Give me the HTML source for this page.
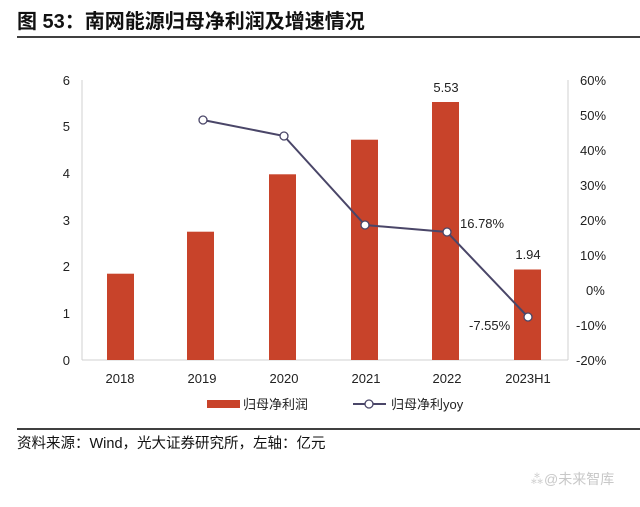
<!DOCTYPE html>
<html><head><meta charset="utf-8"><style>
body{margin:0;width:640px;height:502px;background:#fff;overflow:hidden;font-family:"Liberation Sans","Noto Sans CJK SC",sans-serif}
</style></head><body>
<svg width="640" height="502" xmlns="http://www.w3.org/2000/svg" font-family="Liberation Sans, Noto Sans CJK SC, sans-serif">
<text x="17" y="28" font-size="20" font-weight="bold" fill="#111">图 53：南网能源归母净利润及增速情况</text>
<line x1="17" y1="37" x2="640" y2="37" stroke="#000" stroke-width="1.5"/>
<g stroke="#d0d0d0" stroke-width="1">
<line x1="82" y1="80" x2="82" y2="360"/><line x1="568" y1="80" x2="568" y2="360"/>
<line x1="82" y1="360" x2="568" y2="360"/>
</g>
<g font-size="13" fill="#222" text-anchor="end">
<text x="70" y="85">6</text><text x="70" y="131">5</text><text x="70" y="178">4</text><text x="70" y="225">3</text><text x="70" y="271">2</text><text x="70" y="318">1</text><text x="70" y="365">0</text>
</g>
<g font-size="13" fill="#222" text-anchor="start">
<text x="580" y="85">60%</text><text x="580" y="120">50%</text><text x="580" y="155">40%</text><text x="580" y="190">30%</text><text x="580" y="225">20%</text><text x="580" y="260">10%</text><text x="586" y="295">0%</text><text x="576" y="330">-10%</text><text x="576" y="365">-20%</text>
</g>
<g fill="#c8432a">
<rect x="107" y="273.7" width="27" height="86.3"/>
<rect x="187" y="231.7" width="27" height="128.3"/>
<rect x="269" y="174.3" width="27" height="185.7"/>
<rect x="351" y="139.7" width="27" height="220.3"/>
<rect x="432" y="102" width="27" height="258"/>
<rect x="514" y="269.5" width="27" height="90.5"/>
</g>
<polyline points="203,120 284,136 365,225 447,232 528,317" fill="none" stroke="#4a4668" stroke-width="2"/>
<g fill="#fff" stroke="#4a4668" stroke-width="1.3">
<circle cx="203" cy="120" r="4"/><circle cx="284" cy="136" r="4"/><circle cx="365" cy="225" r="4"/><circle cx="447" cy="232" r="4"/><circle cx="528" cy="317" r="4"/>
</g>
<g font-size="13" fill="#222">
<text x="446" y="92" text-anchor="middle">5.53</text>
<text x="528" y="259" text-anchor="middle">1.94</text>
<text x="460" y="228">16.78%</text>
<text x="469" y="330">-7.55%</text>
</g>
<g font-size="13" fill="#222" text-anchor="middle">
<text x="120" y="383">2018</text><text x="202" y="383">2019</text><text x="284" y="383">2020</text><text x="366" y="383">2021</text><text x="447" y="383">2022</text><text x="528" y="383">2023H1</text>
</g>
<rect x="207" y="400" width="33" height="8" fill="#c8432a"/>
<text x="243" y="409" font-size="13" fill="#222">归母净利润</text>
<line x1="353" y1="404" x2="386" y2="404" stroke="#4a4668" stroke-width="2"/>
<circle cx="369" cy="404" r="4" fill="#fff" stroke="#4a4668" stroke-width="1.3"/>
<text x="391" y="409" font-size="13" fill="#222">归母净利yoy</text>
<line x1="17" y1="429" x2="640" y2="429" stroke="#000" stroke-width="1.5"/>
<text x="17" y="448" font-size="14.5" fill="#111">资料来源：Wind，光大证券研究所，左轴：亿元</text>
<text x="530" y="484" font-size="14" fill="#c8c8c8">⁂@未来智库</text>
</svg>
</body></html>
